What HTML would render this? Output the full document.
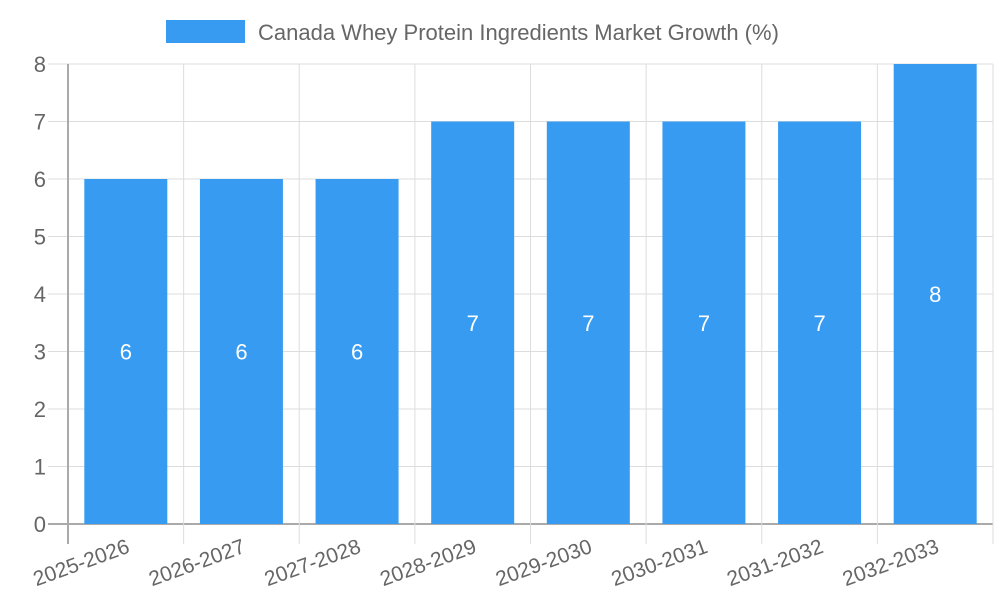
<!DOCTYPE html>
<html><head><meta charset="utf-8"><style>body{margin:0;background:#fff}svg{display:block;font-family:"Liberation Sans",sans-serif}</style></head>
<body>
<svg id="c" width="1000" height="600">
<g>
<rect x="166" y="20" width="79" height="23" fill="#379cf1"/>
<text x="258" y="40" font-size="22" fill="#666">Canada Whey Protein Ingredients Market Growth (%)</text>
</g>
<g id="grid"></g><g id="bars"></g><g id="labels"></g>
</svg>
<script>
const categories=["2025-2026","2026-2027","2027-2028","2028-2029","2029-2030","2030-2031","2031-2032","2032-2033"];
const values=[6,6,6,7,7,7,7,8];
const yTicks=[0,1,2,3,4,5,6,7,8];
const X0=68,X1=993,Y0=524,Y1=64,YMAX=8;
const step=(X1-X0)/categories.length;
const y=v=>Y0-(v/YMAX)*(Y0-Y1);
const xc=i=>X0+step*(i+0.5);
const NS="http://www.w3.org/2000/svg";
function mk(p,t,a){const e=document.createElementNS(NS,t);for(const k in a)e.setAttribute(k,a[k]);p.appendChild(e);return e;}
const g=document.getElementById('grid'),b=document.getElementById('bars'),l=document.getElementById('labels');
yTicks.forEach(t=>{
 const ln=mk(g,'line',{x1:48,x2:X1,y1:y(t),y2:y(t),stroke:t===0?'#aaa':'#ddd','stroke-width':t===0?2:1});
 
 
 const tx=mk(g,'text',{x:46,y:y(t)+8,'text-anchor':'end','font-size':22,fill:'#666'});
 tx.textContent=t;
 
 
});
for(let i=0;i<=categories.length;i++){
 const x=X0+step*i;
 const ln=mk(g,'line',{x1:x,x2:x,y1:Y1,y2:544,stroke:i===0?'#aaa':'#ddd','stroke-width':i===0?2:1});
 
 
}
categories.forEach((c,i)=>{
 const bw=83;
 const r=mk(b,'rect',{x:xc(i)-bw/2,y:y(values[i]),width:bw,height:Y0-y(values[i]),fill:'#379cf1'});
 
 
 const v=mk(l,'text',{x:xc(i),y:(y(values[i])+Y0)/2+8,'text-anchor':'middle','font-size':22,fill:'#fff'});
 v.textContent=values[i];
 
 
 const t=mk(l,'text',{'text-anchor':'end','font-size':21,fill:'#666',transform:`translate(${xc(i)+5},${552}) rotate(-20)`});
 t.textContent=c;
 
 
});
</script>
</body></html>
